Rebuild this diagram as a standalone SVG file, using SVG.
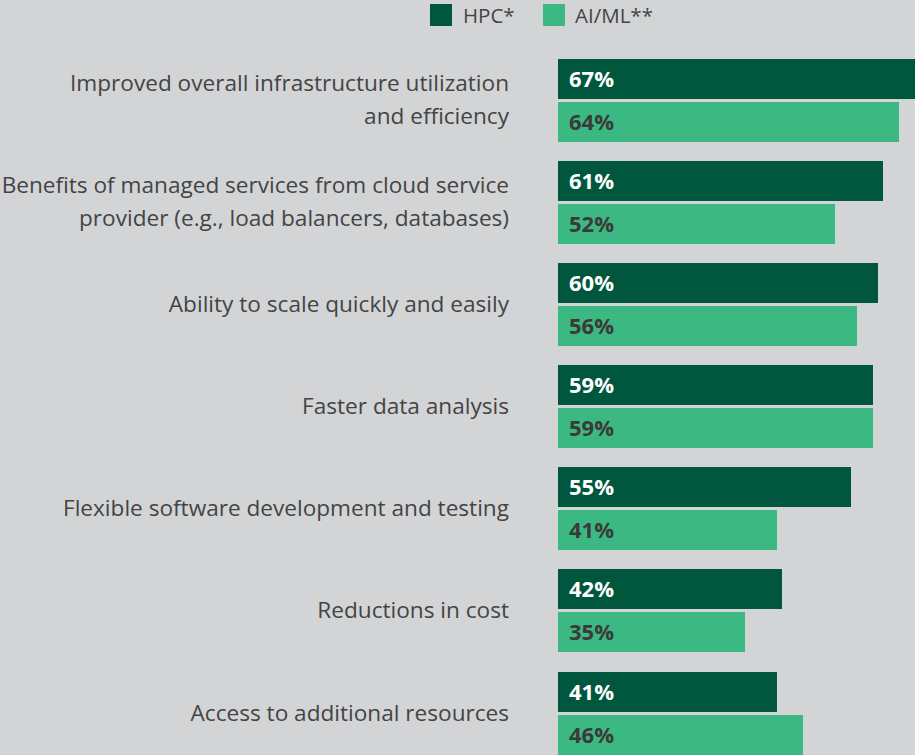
<svg xmlns="http://www.w3.org/2000/svg" width="915" height="755" viewBox="0 0 915 755">
<style>
.lbl{font-family:"Open Sans","Liberation Sans",sans-serif;font-size:22.6px;fill:#444;text-anchor:end}
.leg{font-family:"Open Sans","Liberation Sans",sans-serif;font-size:20.5px;fill:#444}
.hpc{fill:#00573d}
.ai{fill:#3cb982}
.vw{font-family:"Open Sans","Liberation Sans",sans-serif;font-size:22px;font-weight:bold;fill:#fff}
.vd{font-family:"Open Sans","Liberation Sans",sans-serif;font-size:22px;font-weight:bold;fill:#3a3a3a}
</style>
<rect width="915" height="755" fill="#d3d4d6"/>
<g id="legend">
<rect class="hpc" x="430" y="4" width="22" height="22"/>
<text class="leg" x="463" y="23">HPC*</text>
<rect class="ai" x="543" y="4" width="22" height="22"/>
<text class="leg" x="575" y="23">AI/ML**</text>
</g>
<g id="g1">
<text class="lbl" x="509" y="91">Improved overall infrastructure utilization</text>
<text class="lbl" x="509" y="124">and efficiency</text>
<rect class="hpc" x="558" y="59" width="357" height="40"/>
<text class="vw" x="569" y="87">67%</text>
<rect class="ai" x="558" y="102" width="341" height="40"/>
<text class="vd" x="569" y="130">64%</text>
</g>
<g id="g2">
<text class="lbl" x="509" y="193">Benefits of managed services from cloud service</text>
<text class="lbl" x="509" y="226">provider (e.g., load balancers, databases)</text>
<rect class="hpc" x="558" y="161" width="325" height="40"/>
<text class="vw" x="569" y="189">61%</text>
<rect class="ai" x="558" y="204" width="277" height="40"/>
<text class="vd" x="569" y="232">52%</text>
</g>
<g id="g3">
<text class="lbl" x="509" y="312">Ability to scale quickly and easily</text>
<rect class="hpc" x="558" y="263" width="320" height="40"/>
<text class="vw" x="569" y="291">60%</text>
<rect class="ai" x="558" y="306" width="299" height="40"/>
<text class="vd" x="569" y="334">56%</text>
</g>
<g id="g4">
<text class="lbl" x="509" y="414">Faster data analysis</text>
<rect class="hpc" x="558" y="365" width="315" height="40"/>
<text class="vw" x="569" y="393">59%</text>
<rect class="ai" x="558" y="408" width="315" height="40"/>
<text class="vd" x="569" y="436">59%</text>
</g>
<g id="g5">
<text class="lbl" x="509" y="516">Flexible software development and testing</text>
<rect class="hpc" x="558" y="467" width="293" height="40"/>
<text class="vw" x="569" y="495">55%</text>
<rect class="ai" x="558" y="510" width="219" height="40"/>
<text class="vd" x="569" y="538">41%</text>
</g>
<g id="g6">
<text class="lbl" x="509" y="618">Reductions in cost</text>
<rect class="hpc" x="558" y="569" width="224" height="40"/>
<text class="vw" x="569" y="597">42%</text>
<rect class="ai" x="558" y="612" width="187" height="40"/>
<text class="vd" x="569" y="640">35%</text>
</g>
<g id="g7">
<text class="lbl" x="509" y="721">Access to additional resources</text>
<rect class="hpc" x="558" y="672" width="219" height="40"/>
<text class="vw" x="569" y="700">41%</text>
<rect class="ai" x="558" y="715" width="245" height="40"/>
<text class="vd" x="569" y="743">46%</text>
</g>
</svg>
